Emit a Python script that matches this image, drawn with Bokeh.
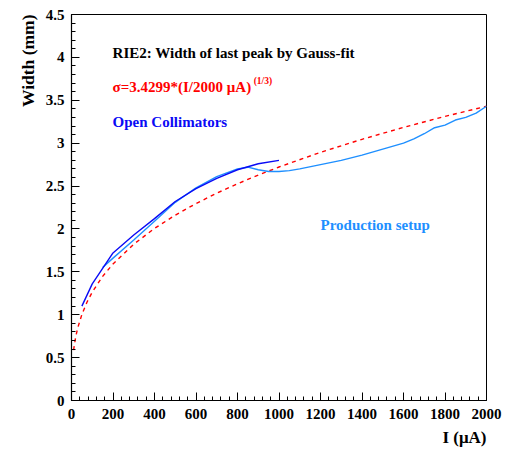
from bokeh.plotting import figure
from bokeh.models import Label, Range1d, FixedTicker, Title
from bokeh.embed import file_html
from bokeh.resources import INLINE

# Open collimators measurement
open_I = [50, 100, 200, 300, 400, 500, 600, 700, 800, 900, 1000]
open_w = [1.10, 1.36, 1.72, 1.93, 2.12, 2.32, 2.47, 2.59, 2.69, 2.76, 2.80]

# Production setup measurement
prod_I = [150, 200, 300, 400, 500, 600, 700, 800, 850, 900, 950, 1000, 1050, 1100,
          1200, 1300, 1400, 1500, 1600, 1650, 1700, 1750, 1800, 1850, 1900, 1950, 2000]
prod_w = [1.55, 1.66, 1.87, 2.09, 2.31, 2.48, 2.61, 2.70, 2.72, 2.69, 2.67, 2.67, 2.68, 2.70,
          2.75, 2.80, 2.86, 2.93, 3.00, 3.05, 3.11, 3.18, 3.21, 3.27, 3.30, 3.35, 3.43]

# Fit curve sigma = 3.4299*(I/2000)^(1/3), sampled values
fit_I = [10, 20, 30, 50, 75, 100, 150, 200, 300, 400, 500, 600, 700, 800, 900, 1000,
         1200, 1400, 1600, 1800, 2000]
fit_w = [0.587, 0.739, 0.846, 1.003, 1.148, 1.264, 1.447, 1.592, 1.822, 2.006, 2.161,
         2.296, 2.417, 2.527, 2.628, 2.722, 2.893, 3.045, 3.184, 3.312, 3.430]

x_ticks = [0, 200, 400, 600, 800, 1000, 1200, 1400, 1600, 1800, 2000]
y_ticks = [0, 0.5, 1, 1.5, 2, 2.5, 3, 3.5, 4, 4.5]

FONT = "'Liberation Serif', 'Times New Roman', Times, serif"

p = figure(width=507, height=453, output_backend="svg", toolbar_location=None,
           x_range=Range1d(0, 2000), y_range=Range1d(0, 4.5),
           min_border_left=71, min_border_right=21, min_border_top=14, min_border_bottom=53)
p.background_fill_color = "white"
p.border_fill_color = "white"
p.outline_line_color = "black"
p.outline_line_width = 1
p.xgrid.visible = False
p.ygrid.visible = False

for ax in (p.xaxis[0], p.yaxis[0]):
    ax.major_label_text_font = FONT
    ax.major_label_text_font_style = "bold"
    ax.major_label_text_font_size = "15px"
    ax.major_label_text_color = "black"
    ax.axis_line_color = "black"
    ax.axis_line_width = 1.2
    ax.major_tick_in = 8
    ax.major_tick_out = 0
    ax.minor_tick_in = 4
    ax.minor_tick_out = 0
    ax.major_tick_line_color = "black"
    ax.minor_tick_line_color = "black"

p.xaxis[0].ticker = FixedTicker(ticks=x_ticks,
                                minor_ticks=[i * 40 for i in range(51)])
p.yaxis[0].ticker = FixedTicker(ticks=y_ticks,
                                minor_ticks=[i * 0.1 for i in range(46)])
p.xaxis[0].major_label_standoff = 8
p.yaxis[0].major_label_standoff = 7
p.xaxis[0].major_label_overrides = {t: str(t) for t in x_ticks}
p.yaxis[0].major_label_overrides = {0: "0", 0.5: "0.5", 1: "1", 1.5: "1.5", 2: "2",
                                    2.5: "2.5", 3: "3", 3.5: "3.5", 4: "4", 4.5: "4.5"}

p.line(fit_I, fit_w, line_color="#ff0000", line_width=1.4, line_dash="4 4")
p.line(prod_I, prod_w, line_color="#1e8fff", line_width=1.4)
p.line(open_I, open_w, line_color="#0a0af5", line_width=1.4)

def lab(x, y, text, color, size="15px"):
    p.add_layout(Label(x=x, y=y, text=text,
                       text_font=FONT, text_font_style="bold", text_font_size=size,
                       text_color=color, text_align="left", text_baseline="middle"))

lab(198, 4.056, "RIE2: Width of last peak by Gauss-fit", "black")
lab(198, 3.66, "\u03c3=3.4299*(I/2000 \u03bcA)", "#ff0000")
lab(878, 3.73, "(1/3)", "#ff0000", size="9.5px")
lab(198, 3.245, "Open Collimators", "#0a0af5")
lab(1200, 2.05, "Production setup", "#1e8fff")

# axis titles as side-panel titles
p.add_layout(Title(text="Width (mm)", align="right", text_font=FONT,
                   text_font_style="bold", text_font_size="17.5px",
                   text_color="black", standoff=10), "left")
p.add_layout(Title(text="I (\u03bcA)", align="right", text_font=FONT,
                   text_font_style="bold", text_font_size="17px",
                   text_color="black", standoff=8), "below")

open("out.html", "w").write(file_html(p, INLINE))
